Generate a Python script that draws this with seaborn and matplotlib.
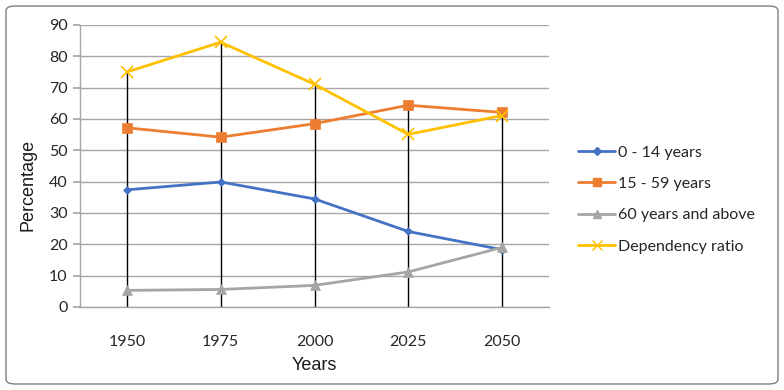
import matplotlib
matplotlib.use("Agg")
import matplotlib.pyplot as plt
import seaborn as sns
import pandas as pd
import numpy as np
from matplotlib.patches import FancyBboxPatch
from matplotlib.lines import Line2D

years = ["1950", "1975", "2000", "2025", "2050"]
series_names = ["0 - 14 years", "15 - 59 years", "60 years and above", "Dependency ratio"]
age_0_14 = [37.4, 39.9, 34.5, 24.1, 18.3]
age_15_59 = [57.2, 54.2, 58.5, 64.4, 62.1]
age_60_plus = [5.3, 5.6, 6.9, 11.2, 19.0]
dependency = [75.0, 84.5, 71.1, 55.1, 61.1]

colors = ["#4472C4", "#ED7D31", "#A5A5A5", "#FFC000"]
markers = ["D", "s", "^", "x"]
msizes = [4.5, 6.5, 6.5, 8]

sns.set_theme(style="white")
plt.rcParams["font.family"] = ["Lato", "DejaVu Sans"]

values = [age_0_14, age_15_59, age_60_plus, dependency]
rows = []
for name, vals in zip(series_names, values):
    for i, v in enumerate(vals):
        rows.append({"x": i, "Series": name, "value": v})
df = pd.DataFrame(rows)

fig = plt.figure(figsize=(7.84, 3.90), dpi=100)
ax = fig.add_axes([80/784, 1 - 307/390, (549-80)/784, (307-25)/390])

# drop lines from the maximum at each category
maxima = np.max(np.array(values), axis=0)
ax.vlines(range(len(years)), 0, maxima, color="black", lw=1.0, zorder=2)

for name, col, mk, ms in zip(series_names, colors, markers, msizes):
    sub = df[df["Series"] == name]
    sns.lineplot(data=sub, x="x", y="value", ax=ax, color=col, marker=mk,
                 markersize=ms, markeredgecolor=col, markeredgewidth=1.2 if mk == "x" else 0.5,
                 lw=2, zorder=3, legend=False, sort=False)

ax.set_xlim(-0.5, len(years) - 0.5)
ax.set_ylim(0, 90)
ax.set_yticks(range(0, 91, 10))
ax.set_xticks(range(len(years)))
ax.set_xticklabels(years)
ax.yaxis.grid(True, color="#A6A6A6", lw=1)
ax.set_axisbelow(True)
for s in ["top", "right"]:
    ax.spines[s].set_visible(False)
for s in ["left", "bottom"]:
    ax.spines[s].set_color("#A6A6A6")
    ax.spines[s].set_linewidth(1)
ax.tick_params(axis="y", left=True, length=5, color="#A6A6A6", labelsize=11.5, pad=4, labelcolor="#262626")
ax.tick_params(axis="x", bottom=False, labelsize=11.5, pad=14, labelcolor="#262626")
ax.set_xlabel("Years", fontsize=13, color="#1a1a1a", family=["Liberation Sans", "DejaVu Sans"])
ax.set_ylabel("Percentage", fontsize=13, color="#1a1a1a", family=["Liberation Sans", "DejaVu Sans"])
ax.xaxis.set_label_coords(0.5, -(366 - 307) / 282, transform=ax.transAxes)
ax.yaxis.set_label_coords(-(80 - 28) / 469, (307 - 185) / 282, transform=ax.transAxes)
ax.xaxis.label.set_va("center")
ax.yaxis.label.set_va("center")

handles = [Line2D([0], [0], color=c, marker=m, markersize=s * 0.85, markeredgecolor=c, lw=2)
           for c, m, s in zip(colors, markers, msizes)]
fig.legend(handles, series_names, loc="upper left", bbox_to_anchor=(572/784, 1 - 139/390),
           frameon=False, fontsize=11.5, handlelength=2.3, handletextpad=0.2,
           labelspacing=1.08, borderaxespad=0)

border = FancyBboxPatch((6/784, 6/390), 772/784, 378/390, transform=fig.transFigure,
                        boxstyle="round,pad=0,rounding_size=0.012", fill=False,
                        edgecolor="#7F7F7F", lw=1)
fig.patches.append(border)

fig.savefig("out.png", dpi=100)
